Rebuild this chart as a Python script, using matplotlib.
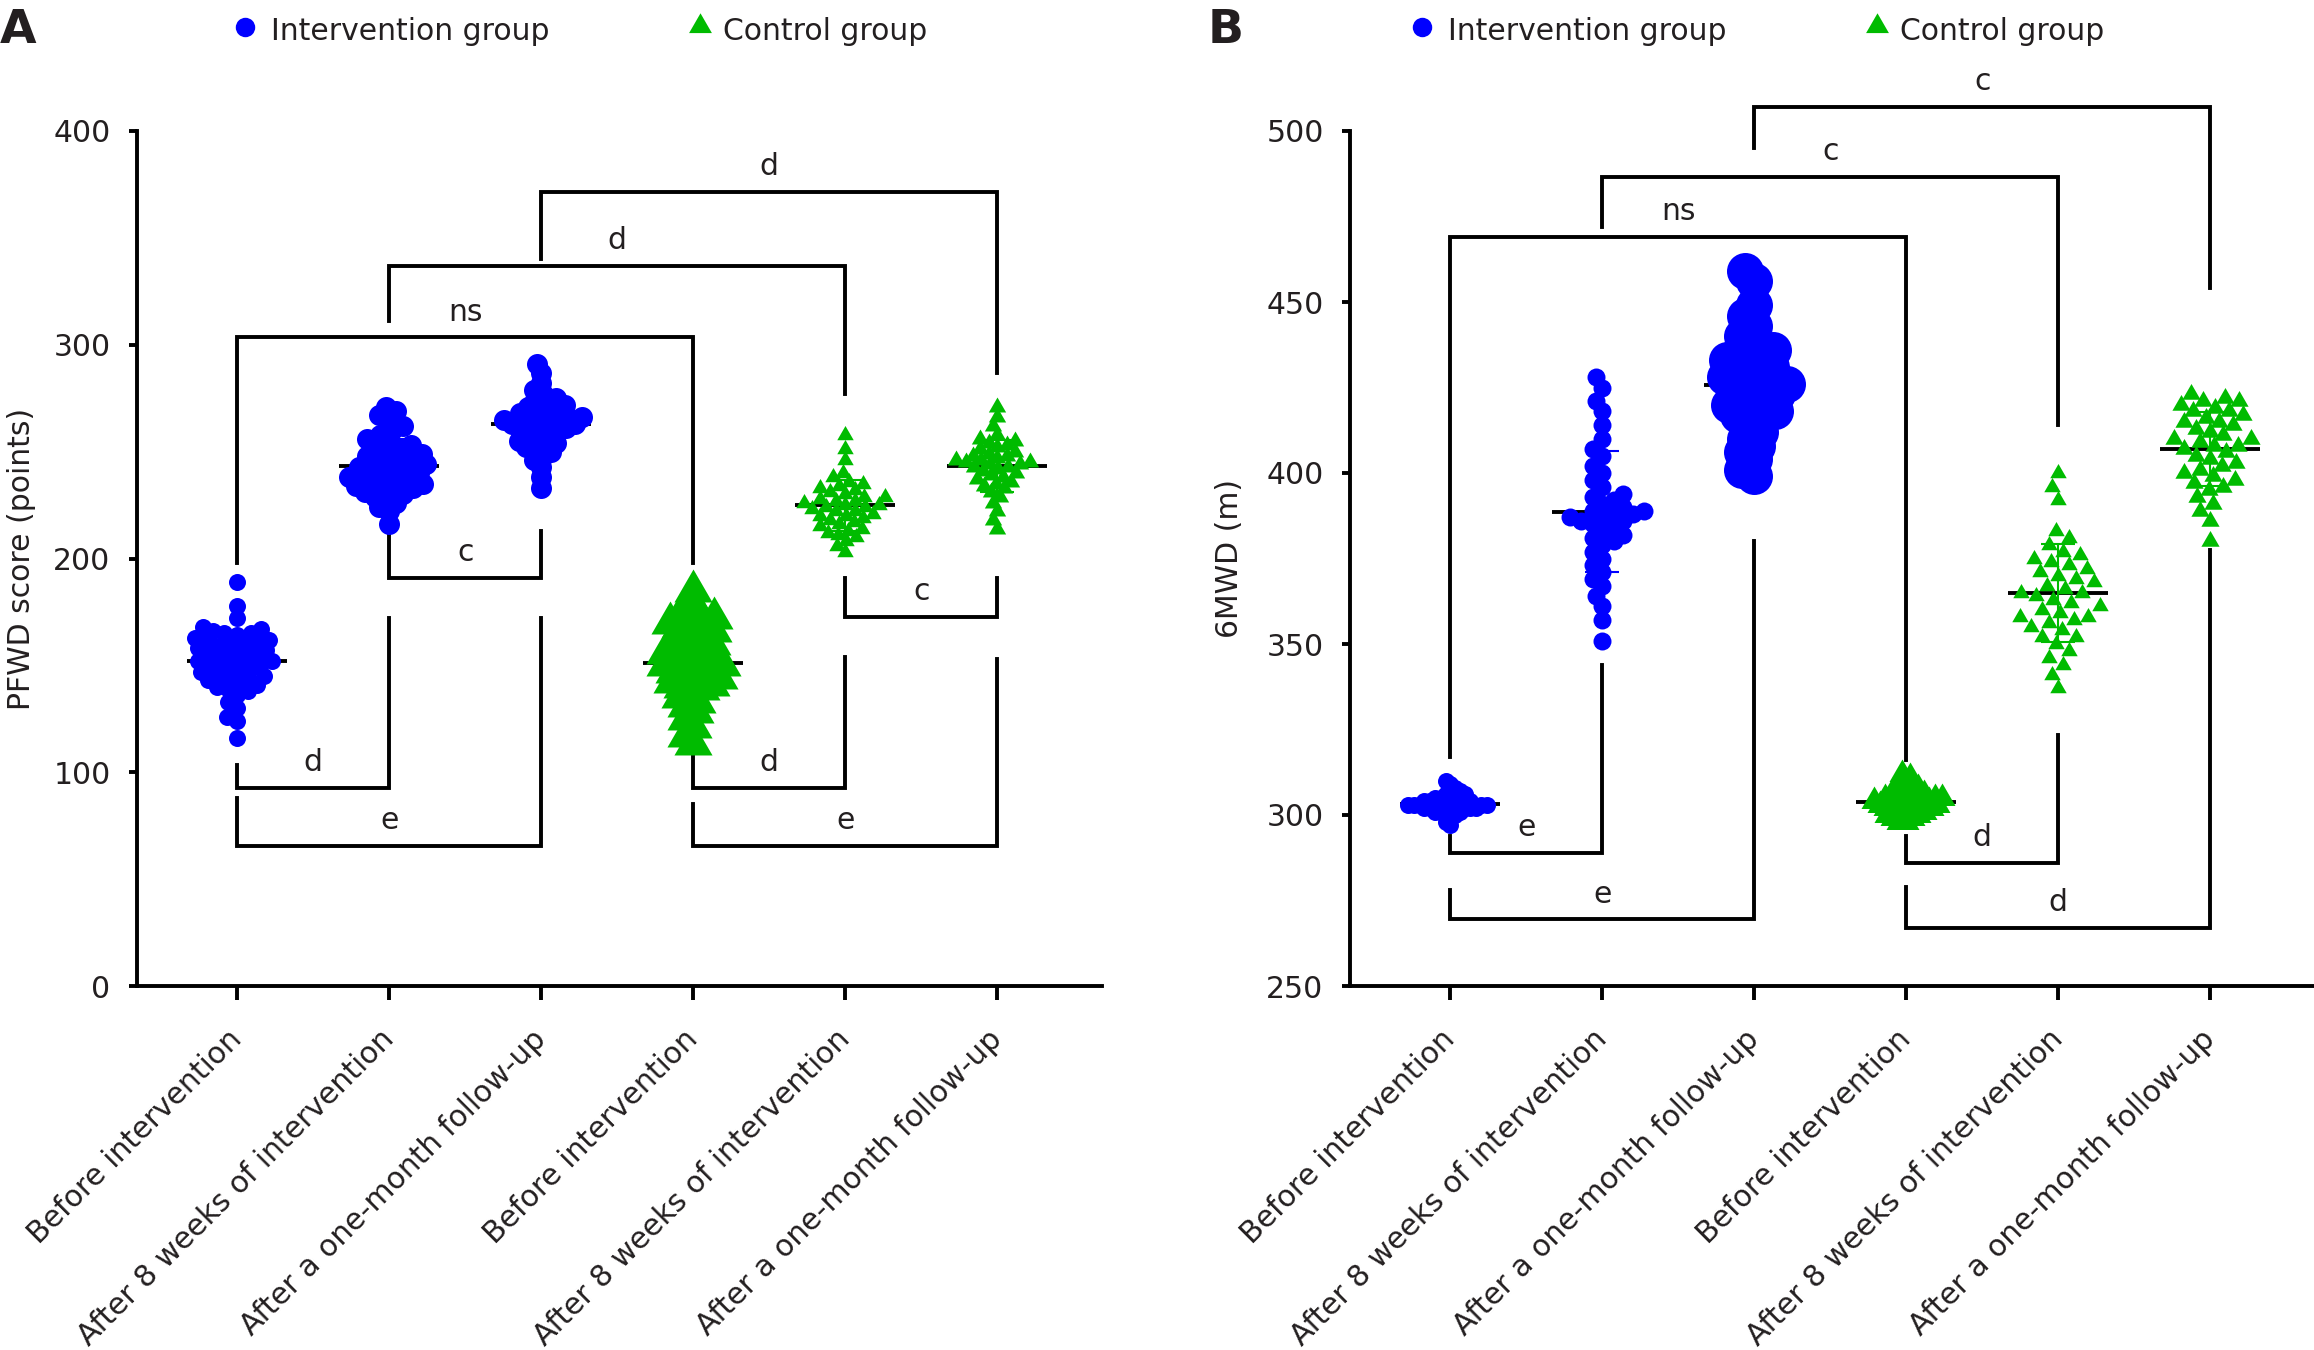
import numpy as np
import matplotlib
matplotlib.use("Agg")
import matplotlib.pyplot as plt
from matplotlib.lines import Line2D
from matplotlib.transforms import ScaledTranslation

plt.rcParams['font.family'] = ['DejaVu Sans']
TXT = '#231f20'
BLUE = '#0000ff'
GREEN = '#00bb00'

categories = ["Before intervention", "After 8 weeks of intervention", "After a one-month follow-up",
              "Before intervention", "After 8 weeks of intervention", "After a one-month follow-up"]

# panel A: PFWD score (points)
pfwd_int_before = [189, 178, 172, 168, 167, 166, 165, 165, 164, 163, 162, 162, 161, 160, 160, 159,
                   158, 158, 157, 156, 155, 155, 154, 153, 152, 152, 151, 150, 150, 149, 148, 147,
                   146, 145, 145, 144, 143, 142, 141, 140, 139, 138, 136, 133, 130, 126, 124, 116]
pfwd_int_8w = [271, 269, 267, 265, 262, 260, 258, 256, 255, 253, 252, 251, 250, 249, 248, 247,
               246, 245, 245, 244, 243, 243, 242, 241, 240, 240, 239, 238, 238, 237, 236, 235,
               235, 234, 233, 233, 232, 231, 230, 229, 228, 226, 224, 222, 216]
pfwd_int_1m = [291, 287, 282, 279, 277, 275, 274, 273, 272, 271, 270, 269, 268, 268, 267, 266,
               266, 265, 265, 264, 264, 263, 263, 262, 262, 261, 260, 260, 259, 258, 257, 256,
               255, 254, 253, 252, 251, 250, 248, 246, 243, 238, 233]
pfwd_ctl_before = [185, 180, 175, 175, 172, 170, 170, 168, 168, 166, 165, 163, 162, 160, 159, 158,
                   157, 156, 155, 154, 153, 152, 151, 150, 150, 149, 148, 147, 146, 145, 144, 143,
                   142, 141, 140, 139, 137, 135, 133, 131, 128, 125, 121, 117, 113]
pfwd_ctl_8w = [258, 251, 246, 240, 238, 236, 235, 234, 233, 232, 231, 230, 229, 229, 228, 227,
               227, 226, 225, 225, 224, 224, 223, 222, 222, 221, 220, 220, 219, 218, 217, 216,
               215, 214, 213, 212, 211, 210, 208, 206, 203]
pfwd_ctl_1m = [271, 266, 262, 258, 256, 255, 254, 253, 252, 251, 250, 249, 248, 248, 247, 246,
               246, 245, 245, 244, 244, 243, 243, 242, 241, 240, 239, 238, 237, 236, 235, 234,
               233, 231, 229, 226, 222, 218, 214]

# panel B: 6MWD (m)
mwd_int_before = [310, 309, 308, 307, 307, 306, 306, 306, 305, 305, 305, 305, 304, 304, 304, 304,
                  304, 304, 303, 303, 303, 303, 303, 303, 303, 303, 303, 302, 302, 302, 302, 302,
                  302, 302, 301, 301, 301, 301, 300, 300, 299, 298, 297]
mwd_int_8w = [428, 425, 421, 418, 414, 410, 407, 405, 402, 400, 398, 396, 394, 393, 392, 391,
              390, 389, 389, 388, 388, 387, 387, 386, 386, 385, 384, 383, 382, 381, 380, 379,
              377, 375, 373, 371, 369, 367, 364, 361, 357, 351]
mwd_int_1m = [459, 456, 449, 446, 443, 440, 438, 436, 435, 434, 433, 432, 431, 430, 429, 428,
              427, 426, 426, 425, 424, 423, 422, 421, 420, 419, 418, 417, 416, 414, 412, 410,
              408, 406, 404, 401, 399]
mwd_ctl_before = [312, 311, 310, 309, 308, 308, 307, 307, 306, 306, 306, 305, 305, 305, 305, 304,
                  304, 304, 304, 304, 303, 303, 303, 303, 302, 302, 302, 302, 301, 301, 301, 300,
                  300, 300, 299, 299, 298, 298]
mwd_ctl_8w = [400, 396, 392, 383, 381, 379, 377, 376, 375, 374, 373, 372, 371, 370, 369, 368,
              367, 366, 365, 365, 364, 363, 362, 361, 360, 359, 358, 358, 357, 356, 355, 354,
              352, 352, 350, 348, 346, 344, 341, 337]
mwd_ctl_1m = [423, 422, 421, 421, 420, 419, 418, 418, 417, 416, 415, 415, 414, 413, 412, 411,
              410, 410, 409, 408, 408, 407, 406, 405, 404, 403, 402, 401, 400, 399, 398, 397,
              396, 395, 393, 391, 389, 386, 380]

# significance brackets: (label, group1, group2, line y, left leg end, right leg end)
brackets_a = [("ns", 1, 4, 303.5, 198, 198), ("d", 2, 5, 337, 311, 277), ("d", 3, 6, 371.5, 340, 287),
              ("c", 2, 3, 191, 213, 213), ("d", 1, 2, 92.6, 103.6, 172), ("e", 1, 3, 65.7, 88, 172),
              ("c", 5, 6, 172.6, 191, 191), ("d", 4, 5, 92.6, 107.5, 154), ("e", 4, 6, 65.7, 85, 153)]
brackets_b = [("c", 3, 6, 507, 495, 454), ("c", 2, 5, 486.6, 472, 414), ("ns", 1, 4, 469, 317, 316),
              ("e", 1, 2, 289, 294, 344), ("e", 1, 3, 269.5, 278, 380),
              ("d", 4, 5, 286, 294, 323.5), ("d", 4, 6, 267, 279, 377.6)]

W, H = 2314, 1350
DPI = 100
XPX = 152.0  # px per category
tri = [(-1, -0.577), (1, -0.577), (0, 1.155)]


def swarm_px(vals, ppu_y, dmin):
    order = np.argsort(vals)
    placed = []
    xs = np.zeros(len(vals))
    for i in order:
        y = vals[i] * ppu_y
        cands = [0.0]
        for px, py in placed:
            dy = y - py
            if abs(dy) < dmin:
                dx = np.sqrt(dmin ** 2 - dy ** 2)
                cands += [px + dx, px - dx]
        cands.sort(key=lambda c: (abs(c), c))
        for c in cands:
            if all((c - px) ** 2 + (y - py) ** 2 >= dmin ** 2 - 1e-6 for px, py in placed):
                xs[i] = c
                placed.append((c, y))
                break
    return xs


def swarm(values, ppu_y, half):
    # widest non-overlapping swarm whose centres stay within +-half px
    vals = np.asarray(values, float)
    lo, hi = 0.5, 80.0
    best = swarm_px(vals, ppu_y, lo)
    for _ in range(25):
        mid = (lo + hi) / 2
        xs = swarm_px(vals, ppu_y, mid)
        if np.abs(xs).max() <= half:
            lo, best = mid, xs
        else:
            hi = mid
    return best / XPX


def panel(ax, groups, sizes, ylim, yticks, ylabel, brackets):
    ppu = 855.0 / (ylim[1] - ylim[0])
    for k, vals in enumerate(groups):
        x0 = k + 1
        col = BLUE if k < 3 else GREEN
        mk = 'o' if k < 3 else tri
        d = sizes[k]
        m = np.mean(vals)
        sd = np.std(vals, ddof=1)
        ax.hlines(m, x0 - 0.33, x0 + 0.33, color='black', lw=2.8, zorder=2)
        ax.errorbar(x0, m, yerr=sd, color=col, lw=1.5, capsize=12, capthick=1.5, zorder=2)
        offs = swarm(vals, ppu, 51 - d / 2)
        ms = d / 1.389
        ax.scatter(x0 + offs, vals, s=ms ** 2, marker=mk, color=col, linewidths=0, zorder=3)
    for lab, g1, g2, y, yl, yr in brackets:
        ax.plot([g1, g1, g2, g2], [yl, y, y, yr], color='black', lw=2.8, clip_on=False,
                solid_joinstyle='miter', zorder=1)
        ax.annotate(lab, ((g1 + g2) / 2, y), xytext=(0, 12), textcoords='offset points',
                    ha='center', va='baseline', fontsize=21.5, color=TXT, annotation_clip=False)
    ax.set_xlim(0.34, 6.69)
    ax.set_ylim(*ylim)
    ax.set_yticks(yticks)
    ax.set_xticks(range(1, 7))
    ax.set_xticklabels(categories, rotation=45, ha='right', va='center', rotation_mode='anchor')
    for t in ax.get_xticklabels():
        t.set_transform(t.get_transform() + ScaledTranslation(0.13, 0, ax.figure.dpi_scale_trans))
    for s in ['top', 'right']:
        ax.spines[s].set_visible(False)
    for s in ['left', 'bottom']:
        ax.spines[s].set_linewidth(2.8)
    ax.tick_params(axis='y', length=6, width=2.8, pad=13, labelsize=21.5, labelcolor=TXT)
    ax.tick_params(axis='x', length=10, width=2.8, pad=25, labelsize=21.5, labelcolor=TXT)
    ax.set_ylabel(ylabel, fontsize=21.5, color=TXT)


fig = plt.figure(figsize=(W / DPI, H / DPI), dpi=DPI)
axA = fig.add_axes([137 / W, 1 - 986 / H, 965 / W, 855 / H])
axB = fig.add_axes([1350 / W, 1 - 986 / H, 965 / W, 855 / H])

panel(axA, [pfwd_int_before, pfwd_int_8w, pfwd_int_1m, pfwd_ctl_before, pfwd_ctl_8w, pfwd_ctl_1m],
      [17, 21, 21, 44, 19, 20], (0, 400), [0, 100, 200, 300, 400], "PFWD score (points)", brackets_a)
panel(axB, [mwd_int_before, mwd_int_8w, mwd_int_1m, mwd_ctl_before, mwd_ctl_8w, mwd_ctl_1m],
      [17, 18, 37, 30, 19, 21], (250, 500), [250, 300, 350, 400, 450, 500], "6MWD (m)", brackets_b)
axA.yaxis.set_label_coords(-0.105, 0.5)
axB.yaxis.set_label_coords(-0.11, 0.5)

# panel letters and legends
for letter, lx, cx, tx in [("A", 0, 245, 700), ("B", 1208, 1422, 1877)]:
    fig.text(lx / W, 1 - 43 / H, letter, fontsize=34, fontweight='bold', color=TXT, va='baseline')
    fig.add_artist(Line2D([cx / W], [1 - 27 / H], marker='o', ms=14, color=BLUE, mew=0,
                          transform=fig.transFigure))
    fig.add_artist(Line2D([tx / W], [1 - 26 / H], marker=tri, ms=19, color=GREEN, mew=0,
                          transform=fig.transFigure))
    fig.text((cx + 26) / W, 1 - 40 / H, "Intervention group", fontsize=21.5, color=TXT, va='baseline')
    fig.text((tx + 23) / W, 1 - 40 / H, "Control group", fontsize=21.5, color=TXT, va='baseline')

fig.savefig("out.png", dpi=DPI)
